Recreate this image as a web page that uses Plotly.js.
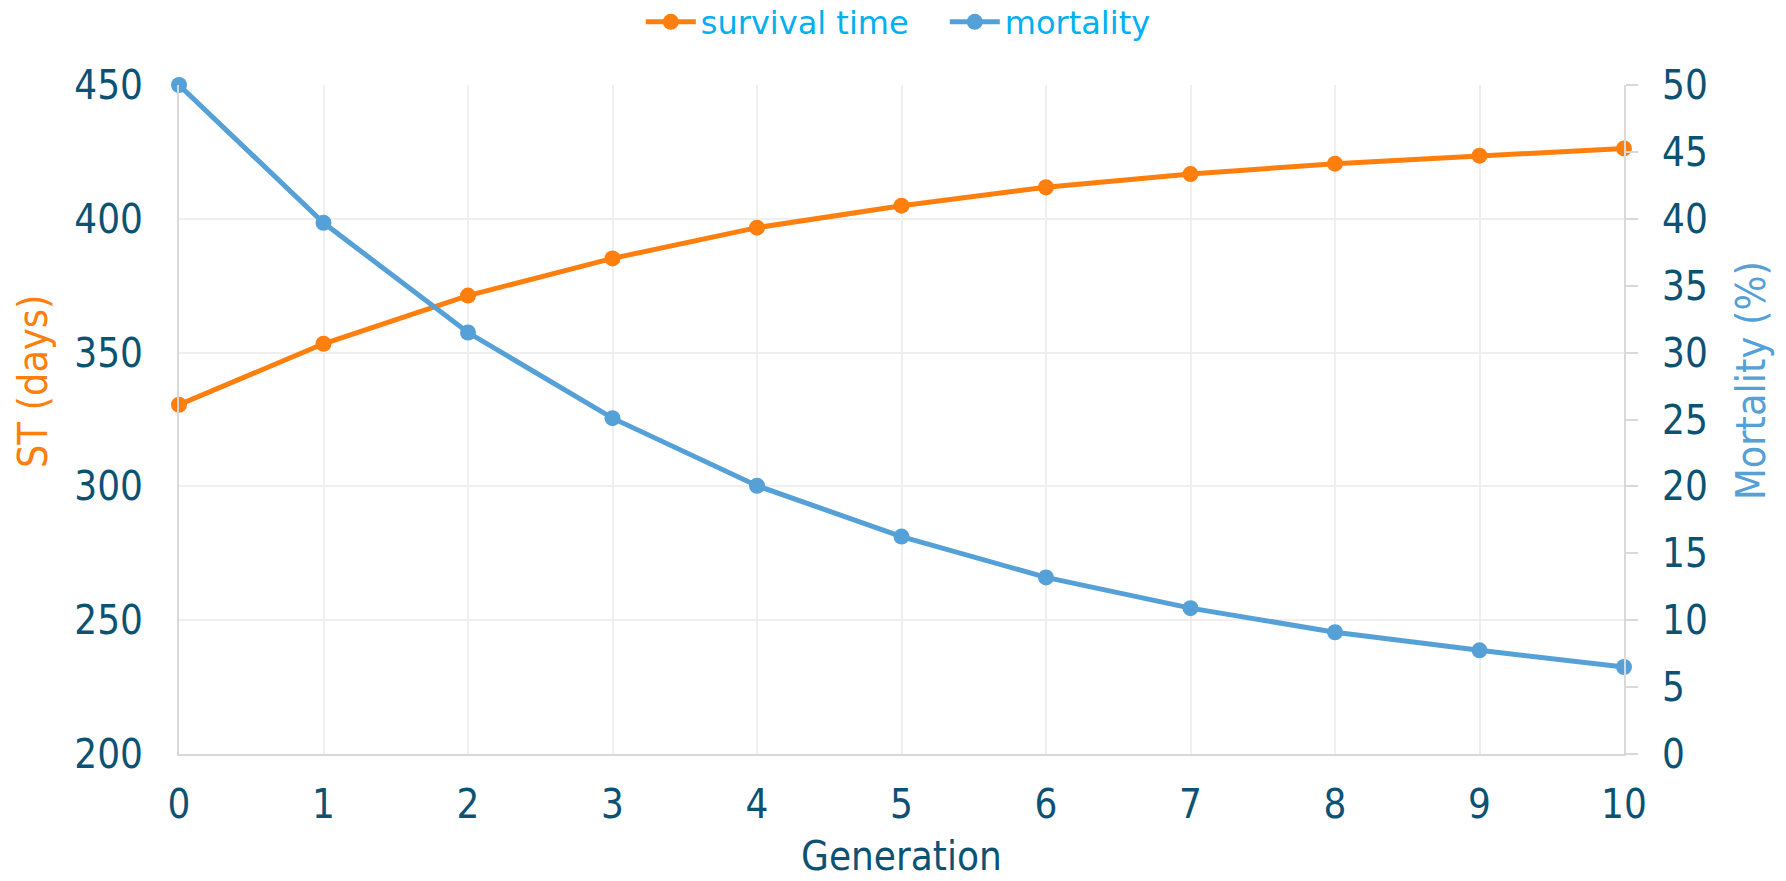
<!DOCTYPE html>
<html>
<head>
<meta charset="utf-8">
<script src="https://cdn.plot.ly/plotly-3.0.1.min.js"></script>
<style>html,body{margin:0;padding:0;background:#fff;}#chart{width:1786px;height:881px;}</style>
</head>
<body>
<div id="chart"></div>
<script>
var generation = [0, 1, 2, 3, 4, 5, 6, 7, 8, 9, 10];
var survivalTime = [330.5, 353.3, 371.3, 385.2, 396.7, 404.9, 411.8, 416.7, 420.6, 423.6, 426.3];
var mortality = [50.0, 39.7, 31.5, 25.1, 20.05, 16.25, 13.2, 10.9, 9.1, 7.75, 6.5];
var leftTicks = [200, 250, 300, 350, 400, 450];
var rightTicks = [0, 5, 10, 15, 20, 25, 30, 35, 40, 45, 50];
var xTitle = 'Generation';
var leftTitle = 'ST (days)';
var rightTitle = 'Mortality (%)';

var textColor = '#0c5273';
var orange = '#ff7f0e';
var blue = '#55a0d6';
var font = '"DejaVu Sans Condensed", "DejaVu Sans", Verdana, sans-serif';
var legendFont = '"DejaVu Sans", Verdana, sans-serif';

var traces = [
  {x: generation, y: survivalTime, name: 'survival time', type: 'scatter', mode: 'lines+markers',
   line: {color: orange, width: 5}, marker: {color: orange, size: 16}, yaxis: 'y', cliponaxis: false},
  {x: generation, y: mortality, name: 'mortality', type: 'scatter', mode: 'lines+markers',
   line: {color: blue, width: 5}, marker: {color: blue, size: 16}, yaxis: 'y2', cliponaxis: false}
];

var layout = {
  width: 1786, height: 881,
  margin: {l: 179, r: 162, t: 85, b: 127},
  paper_bgcolor: '#fff', plot_bgcolor: '#fff',
  font: {family: font, size: 40, color: textColor},
  showlegend: true,
  legend: {orientation: 'h', xref: 'container', yref: 'container', x: 0.529, xanchor: 'center', y: 0.975, yanchor: 'middle',
           font: {family: legendFont, size: 32, color: '#00b0f0'}, itemwidth: 50, entrywidth: 239, entrywidthmode: 'pixels',
           tracegroupgap: 0, bgcolor: 'rgba(0,0,0,0)'},
  xaxis: {
    range: [0, 10], tickvals: generation, ticktext: generation.map(String),
    showgrid: true, gridcolor: '#efefef', gridwidth: 2,
    showline: true, linecolor: '#d9d9d9', linewidth: 2,
    ticks: '', ticklabelstandoff: 14, zeroline: false,
    tickfont: {family: font, size: 40, color: textColor}
  },
  yaxis: {
    range: [200, 450], tickvals: leftTicks, ticktext: leftTicks.map(String),
    showgrid: true, gridcolor: '#efefef', gridwidth: 2,
    showline: true, linecolor: '#d9d9d9', linewidth: 2,
    ticks: '', ticklabelstandoff: 26, zeroline: false,
    tickfont: {family: font, size: 40, color: textColor}
  },
  yaxis2: {
    range: [0, 50], tickvals: rightTicks, ticktext: rightTicks.map(String),
    overlaying: 'y', side: 'right', showgrid: false,
    showline: true, linecolor: '#d9d9d9', linewidth: 2,
    ticks: 'outside', ticklen: 12, tickwidth: 2, tickcolor: '#d9d9d9', ticklabelstandoff: 16, zeroline: false,
    tickfont: {family: font, size: 40, color: textColor}
  },
  annotations: [
    {text: xTitle, xref: 'paper', yref: 'paper', x: 0.5, y: -0.1525, xanchor: 'center', yanchor: 'middle',
     showarrow: false, borderpad: 0, font: {family: font, size: 40, color: textColor}},
    {text: leftTitle, xref: 'paper', yref: 'paper', x: -0.101, y: 0.5575, xanchor: 'center', yanchor: 'middle',
     textangle: -90, showarrow: false, font: {family: font, size: 41, color: orange}},
    {text: rightTitle, xref: 'paper', yref: 'paper', x: 1.0879, y: 0.5575, xanchor: 'center', yanchor: 'middle',
     textangle: -90, showarrow: false, font: {family: font, size: 41, color: blue}}
  ]
};

Plotly.newPlot('chart', traces, layout, {displayModeBar: false, staticPlot: true});
</script>
</body>
</html>
